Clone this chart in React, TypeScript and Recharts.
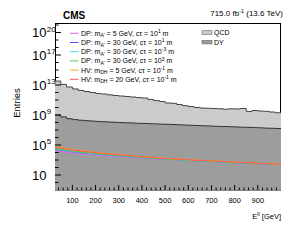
import React from 'react';
import { ComposedChart, Area, Line, XAxis, YAxis, Customized } from 'recharts';

const W = 293;
const H = 240;
const PLOT = { left: 55, top: 23, right: 281, bottom: 190 };
const FONT = '"Liberation Sans", Arial, Helvetica, sans-serif';
const Y_AXIS_W = 20;
const X_AXIS_H = 20;

// Histogram bins (lower edges, GeV)
const binEdges = [25, 50, 75, 100, 125, 150, 175, 200, 225, 250, 275, 300, 325, 350, 375, 400, 425, 450, 475, 500,
  525, 550, 575, 600, 625, 650, 675, 700, 725, 750, 775, 800, 825, 850, 875, 900, 925, 950, 975];
const binUpperEdge = 1000;

const qcdValues = [3.4e13, 1.2e13, 5.4e12, 3.0e12, 1.9e12, 1.35e12, 1.0e12, 7.4e11, 6.3e11, 4.9e11,
  4.0e11, 3.4e11, 2.95e11, 2.5e11, 2.1e11, 1.85e11, 1.2e11, 8.5e10, 6.3e10, 4.0e10,
  3.6e10, 2.5e10, 1.75e10, 1.35e10, 1.0e10, 8.5e9, 7.8e9, 7.4e9, 6.8e9, 5.9e9,
  6.8e9, 6.3e9, 7.4e9, 3.0e9, 4.0e9, 3.4e9, 3.1e9, 2.5e9, 2.0e9];

const dyValues = [1.0e9, 5.6e8, 3.2e8, 2.4e8, 2.0e8, 1.75e8, 1.55e8, 1.38e8, 1.26e8, 1.15e8,
  1.05e8, 9.8e7, 9.1e7, 8.5e7, 7.9e7, 7.4e7, 6.9e7, 6.5e7, 6.0e7, 5.75e7,
  5.4e7, 5.0e7, 4.6e7, 4.3e7, 4.0e7, 3.7e7, 3.5e7, 3.2e7, 3.0e7, 2.9e7,
  2.7e7, 2.5e7, 2.35e7, 2.25e7, 2.1e7, 1.95e7, 1.8e7, 1.7e7, 1.6e7];

// Signal samples
const sigEnergies = [25, 50, 100, 150, 200, 300, 400, 500, 600, 700, 800, 900, 1000];
const sigDP5ct1 = [1.75e4, 1.3e4, 8.9e3, 6.3e3, 4.7e3, 2.8e3, 1.8e3, 1.2e3, 850, 615, 455, 330, 265];
const sigDP30ct1 = [2.8e4, 2.0e4, 1.26e4, 8.5e3, 6.0e3, 3.4e3, 2.0e3, 1.3e3, 890, 630, 455, 330, 250];
const sigDP30ctm3 = [3.4e4, 2.3e4, 1.4e4, 9.3e3, 6.5e3, 3.6e3, 2.1e3, 1.35e3, 910, 645, 470, 330, 255];
const sigDP30ct3 = [4.0e4, 2.7e4, 1.6e4, 1.02e4, 7.1e3, 3.9e3, 2.2e3, 1.4e3, 930, 675, 480, 340, 255];
const sigHV5ctm1 = [7.4e4, 4.7e4, 2.5e4, 1.6e4, 1.07e4, 5.4e3, 2.8e3, 1.74e3, 1.12e3, 780, 540, 370, 275];
const sigHV20ctm1 = [5.8e4, 3.7e4, 2.1e4, 1.4e4, 9.3e3, 4.9e3, 2.7e3, 1.6e3, 1.07e3, 740, 525, 365, 270];

const sigSeries = [sigDP5ct1, sigDP30ct1, sigDP30ctm3, sigDP30ct3, sigHV5ctm1, sigHV20ctm1];
const sigProcess = ['DP', 'DP', 'DP', 'DP', 'HV', 'HV'];
const sigMassSub = ["A'", "A'", "A'", "A'", 'DH', 'DH'];
const sigMass = ['5', '30', '30', '30', '5', '20'];
const sigCtExp = ['1', '1', '-3', '3', '-1', '-1'];
const sigColors = ['#dd66ee', '#5555ff', '#55d5d5', '#55cc55', '#ffaa11', '#ff5555'];

const bkgNames = ['QCD', 'DY'];
const bkgFill = ['#cbcbcb', '#9d9d9d'];

// Axis ticks
const xLabelTicks = [100, 200, 300, 400, 500, 600, 700, 800, 900];
const yLabelExps = [1, 5, 9, 13, 17, 20];
const yDomain: [number, number] = [0.1, 1.85e21];
const xDomain: [number, number] = [25, 1000];

const xTicks: number[] = [];
for (let e = 40; e <= 980; e += 20) xTicks.push(e);
const yTicks: number[] = [];
for (let p = 0; p <= 21; p++) yTicks.push(Math.pow(10, p));

const histData = binEdges.map((e, i) => ({ e, qcd: qcdValues[i], dy: dyValues[i] }));
histData.push({ e: binUpperEdge, qcd: qcdValues[qcdValues.length - 1], dy: dyValues[dyValues.length - 1] });

const sigData = sigSeries.map((vals) => sigEnergies.map((e, i) => ({ e, v: vals[i] })));

const YTick = (props: any) => {
  const { y, payload } = props;
  const v = payload.value as number;
  const exp = Math.round(Math.log10(v));
  const labelled = yLabelExps.includes(exp);
  const len = labelled ? 6 : 3.5;
  return (
    <g>
      <line x1={PLOT.left} x2={PLOT.left + len} y1={y} y2={y} stroke="#000" strokeWidth={1} />
      {labelled && (
        <g fontFamily={FONT} fill="#000">
          <text x={46.5} y={y + 4.6} textAnchor="end" fontSize={13}>10</text>
          {exp !== 1 && (
            <text x={46.8} y={y - 1} textAnchor="start" fontSize={8}>{exp}</text>
          )}
        </g>
      )}
    </g>
  );
};

const XTick = (props: any) => {
  const { x, payload } = props;
  const v = payload.value as number;
  const labelled = xLabelTicks.includes(v);
  const len = labelled ? 5 : 2.5;
  return (
    <g>
      <line x1={x} x2={x} y1={PLOT.bottom} y2={PLOT.bottom - len} stroke="#000" strokeWidth={1} />
      {labelled && (
        <text x={x} y={202.8} textAnchor="middle" fontSize={7.5} fontFamily={FONT} fill="#000">{v}</text>
      )}
    </g>
  );
};

const Decorations = () => {
  const rowY0 = 33.3;
  const rowDy = 9.2;
  return (
    <g fontFamily={FONT}>
      <rect x={PLOT.left + 0.5} y={PLOT.top + 0.5} width={PLOT.right - PLOT.left - 1} height={PLOT.bottom - PLOT.top - 0.5}
        fill="none" stroke="#000" strokeWidth={1} />
      <text x={63} y={18.5} fontSize={10} fontWeight="bold" fill="#000">CMS</text>
      <text x={283} y={16.3} fontSize={8} textAnchor="end" fill="#000">
        715.0 fb<tspan dy={-3} fontSize={5.5}>-1</tspan><tspan dy={3}> (13.6 TeV)</tspan>
      </text>
      <text x={281} y={219} fontSize={7.5} textAnchor="end" fill="#000">
        E<tspan dy={-3} fontSize={5.5}>ll</tspan><tspan dy={3}> [GeV]</tspan>
      </text>
      <text transform="translate(19.5,103) rotate(-90)" fontSize={9.5} textAnchor="middle" fill="#000">Entries</text>
      {sigProcess.map((p, i) => {
        const yc = rowY0 + i * rowDy;
        return (
          <g key={i}>
            <line x1={70} x2={78.5} y1={yc} y2={yc} stroke={sigColors[i]} strokeWidth={1} />
            <text x={81} y={yc + 2.5} fontSize={7} fill="#000">
              {p}: m<tspan dy={1.5} fontSize={5}>{sigMassSub[i]}</tspan>
              <tspan dy={-1.5}>{` = ${sigMass[i]} GeV, c\u03c4 = 10`}</tspan>
              <tspan dy={-2.8} fontSize={5}>{sigCtExp[i]}</tspan>
              <tspan dy={2.8}> m</tspan>
            </text>
          </g>
        );
      })}
      {bkgNames.map((n, i) => {
        const yc = 32.5 + i * 9.6;
        return (
          <g key={n}>
            <rect x={202} y={yc - 1.8} width={10} height={3.6} fill={bkgFill[i]} stroke="#666" strokeWidth={0.6} />
            <text x={214} y={yc + 2.5} fontSize={7} fill="#000">{n}</text>
          </g>
        );
      })}
    </g>
  );
};

export default function App() {
  return (
    <div style={{ position: 'absolute', left: 0, top: 0, width: W, height: H, background: '#fff' }}>
      <ComposedChart
        width={W}
        height={H}
        margin={{ top: PLOT.top, right: W - PLOT.right, bottom: H - PLOT.bottom - X_AXIS_H, left: PLOT.left - Y_AXIS_W }}
      >
        <Area
          data={histData}
          dataKey="qcd"
          type="stepAfter"
          baseValue={yDomain[0]}
          fill={bkgFill[0]}
          fillOpacity={1}
          stroke="#444"
          strokeWidth={1}
          isAnimationActive={false}
          dot={false}
          activeDot={false}
        />
        <Area
          data={histData}
          dataKey="dy"
          type="stepAfter"
          baseValue={yDomain[0]}
          fill={bkgFill[1]}
          fillOpacity={1}
          stroke="#333"
          strokeWidth={1}
          isAnimationActive={false}
          dot={false}
          activeDot={false}
        />
        {sigData.map((d, i) => (
          <Line
            key={i}
            data={d}
            dataKey="v"
            type="monotone"
            stroke={sigColors[i]}
            strokeWidth={1}
            dot={false}
            activeDot={false}
            isAnimationActive={false}
          />
        ))}
        <XAxis
          dataKey="e"
          type="number"
          domain={xDomain}
          allowDataOverflow
          ticks={xTicks}
          interval={0}
          height={X_AXIS_H}
          axisLine={false}
          tickLine={false}
          tick={(p: any) => <XTick {...p} />}
        />
        <YAxis
          type="number"
          scale="log"
          domain={yDomain}
          allowDataOverflow
          ticks={yTicks}
          interval={0}
          width={Y_AXIS_W}
          axisLine={false}
          tickLine={false}
          tick={(p: any) => <YTick {...p} />}
        />
        <Customized component={Decorations} />
      </ComposedChart>
    </div>
  );
}
